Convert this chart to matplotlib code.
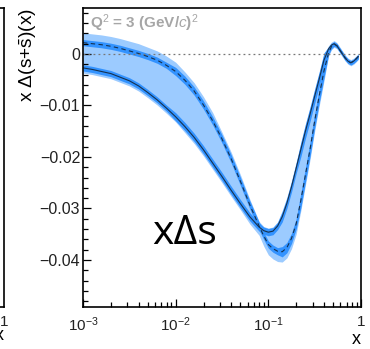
import numpy as np
import matplotlib
matplotlib.use("Agg")
import matplotlib.pyplot as plt

plt.rcParams['font.family'] = ['Liberation Sans', 'DejaVu Sans']
plt.rcParams['mathtext.fontset'] = 'custom'
plt.rcParams['mathtext.rm'] = 'Liberation Sans'
plt.rcParams['mathtext.it'] = 'Liberation Sans:italic'
plt.rcParams['mathtext.bf'] = 'Liberation Sans:bold'

# sample points (log10 x) and curves
logx = [-3.0, -2.9, -2.8, -2.7, -2.6, -2.5, -2.4, -2.3, -2.2, -2.1,
        -2.0, -1.9, -1.8, -1.7, -1.6, -1.5, -1.4, -1.3, -1.2, -1.1,
        -1.05, -1.0, -0.95, -0.9, -0.85, -0.8, -0.75, -0.7, -0.65, -0.6,
        -0.55, -0.5, -0.45, -0.4, -0.35, -0.32, -0.29, -0.26, -0.23, -0.2,
        -0.17, -0.14, -0.11, -0.08, -0.05, -0.03]
solid = [-0.0027, -0.0030, -0.0034, -0.0038, -0.0045, -0.0052, -0.0062, -0.0075, -0.0089, -0.0105,
         -0.0122, -0.0141, -0.0162, -0.0186, -0.0212, -0.0238, -0.0265, -0.0291, -0.0316, -0.0336,
         -0.0343, -0.0346, -0.0344, -0.0334, -0.0316, -0.0290, -0.0258, -0.0222, -0.0186, -0.0150,
         -0.0117, -0.0082, -0.0048, -0.0012, 0.0010, 0.0017, 0.0020, 0.0016, 0.0008, 0.0000,
         -0.0008, -0.0014, -0.0017, -0.0014, -0.0009, -0.0005]
dashed = [0.0022, 0.0020, 0.0018, 0.0015, 0.0011, 0.0006, 0.0001, -0.0005, -0.0012, -0.0022,
          -0.0034, -0.0051, -0.0072, -0.0099, -0.0130, -0.0165, -0.0204, -0.0248, -0.0293, -0.0334,
          -0.0353, -0.0370, -0.0378, -0.0383, -0.0384, -0.0376, -0.0358, -0.0330, -0.0285, -0.0235,
          -0.0185, -0.0130, -0.0080, -0.0033, 0.0002, 0.0014, 0.0019, 0.0016, 0.0008, 0.0000,
          -0.0008, -0.0014, -0.0017, -0.0014, -0.0009, -0.0005]
band_hi = [0.0041, 0.0039, 0.0037, 0.0034, 0.0030, 0.0025, 0.0020, 0.0013, 0.0006, -0.0004,
           -0.0016, -0.0035, -0.0056, -0.0083, -0.0114, -0.0152, -0.0191, -0.0235, -0.0282, -0.0325,
           -0.0335, -0.0338, -0.0336, -0.0326, -0.0304, -0.0278, -0.0246, -0.0210, -0.0174, -0.0138,
           -0.0105, -0.0070, -0.0036, 0.0000, 0.0016, 0.0023, 0.0026, 0.0022, 0.0014, 0.0006,
           -0.0002, -0.0008, -0.0011, -0.0008, -0.0003, 0.0001]
band_lo = [-0.0037, -0.0040, -0.0044, -0.0048, -0.0055, -0.0062, -0.0072, -0.0085, -0.0099, -0.0115,
           -0.0132, -0.0153, -0.0174, -0.0198, -0.0224, -0.0250, -0.0277, -0.0303, -0.0330, -0.0352,
           -0.0373, -0.0390, -0.0398, -0.0403, -0.0404, -0.0396, -0.0378, -0.0350, -0.0305, -0.0255,
           -0.0205, -0.0150, -0.0100, -0.0053, -0.0004, 0.0008, 0.0013, 0.0010, 0.0002, -0.0006,
           -0.0014, -0.0020, -0.0023, -0.0020, -0.0015, -0.0011]
dark_w = [0.0006] * 10 + [0.0008] * 10 + [0.0007] * 4 + [0.0010] * 4 + [0.0014] * 6 + [0.0004] * 12

x = 10 ** np.array(logx)
solid = np.array(solid)
dashed = np.array(dashed)
dark_w = np.array(dark_w)

light = '#9ccbff'
dark = '#3393ff'
line_c = '#16314f'

fig = plt.figure(figsize=(3.7, 3.49), dpi=100)

# edge of the neighbouring panel on the left
ax0 = fig.add_axes([-0.5, 0.1203, 0.5 + 4 / 370, 0.8568])
ax0.set_xscale('log')
ax0.set_xlim(1e-3, 1)
ax0.set_xticks([1])
ax0.set_xticklabels(['1'], fontsize=11, color='#222222')
ax0.tick_params(axis='x', which='both', direction='in', length=0, pad=6)
ax0.set_yticks([])
ax0.set_xlabel('x', fontsize=13, loc='right', labelpad=-2)
for s in ax0.spines.values():
    s.set_linewidth(1.2)

ax = fig.add_axes([0.2243, 0.1203, 0.7514, 0.8568])
ax.set_xscale('log')
ax.set_xlim(1e-3, 1)
ax.set_ylim(-0.04913, 0.00893)

ax.fill_between(x, band_lo, band_hi, color=light, lw=0)
ax.fill_between(x, solid - dark_w, solid + dark_w, color=dark, lw=0)
ax.fill_between(x, dashed - dark_w, dashed + dark_w, color=dark, lw=0)
ax.plot(x, solid, color=line_c, lw=0.8)
ax.plot(x, dashed, color=line_c, lw=0.8, dashes=(4, 3))
ax.axhline(0, color='#777777', lw=0.9, ls=(0, (1.5, 2.5)))

ax.set_xticks([1e-3, 1e-2, 1e-1, 1])
ax.set_xticklabels(['$10^{-3}$', '$10^{-2}$', '$10^{-1}$', '1'])
ax.set_yticks([0, -0.01, -0.02, -0.03, -0.04])
ax.set_yticklabels(['0', '\u22120.01', '\u22120.02', '\u22120.03', '\u22120.04'])
ax.set_yticks(np.arange(-0.048, 0.0081, 0.002), minor=True)
ax.tick_params(axis='both', which='major', direction='in', length=6, width=0.9,
               labelsize=11.5, labelcolor='#222222')
ax.tick_params(axis='x', which='major', labelsize=11, pad=6)
ax.tick_params(axis='both', which='minor', direction='in', length=3.5, width=0.9)
ax.tick_params(axis='y', which='major', pad=2)
for s in ax.spines.values():
    s.set_linewidth(1.2)

ax.set_ylabel('x $\\Delta$(s+$\\bar{\\mathrm{s}}$)(x)', fontsize=13.8, loc='top')
ax.yaxis.set_label_coords(-0.158, 1.0)
ax.set_xlabel('x', fontsize=13, loc='right', labelpad=-2)

ax.text(0.025, 0.985, 'Q$^{2}$ = 3 (GeV/$c$)$^{2}$', transform=ax.transAxes,
        fontsize=11, fontweight='bold', color='#a6a6a6', ha='left', va='top')
ax.text(0.248, 0.21, 'x\u0394s', transform=ax.transAxes, fontsize=29.5,
        family=['Open Sans', 'DejaVu Sans'], color='black', ha='left', va='baseline')

fig.savefig('out.png', dpi=100)
